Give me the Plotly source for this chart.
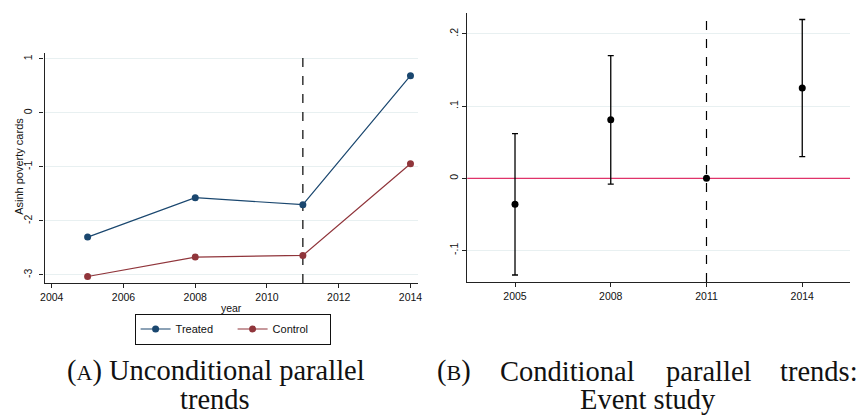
import plotly.graph_objects as go

W, H = 866, 416

# ---- Panel A data ----
years = [2005, 2008, 2011, 2014]
treated = [-2.30, -1.57, -1.70, 0.69]
control = [-3.03, -2.67, -2.64, -0.94]
a_yticks = [1, 0, -1, -2, -3]
a_yticktext = ["1", "0", "-1", "-2", "-3"]
a_xticks = [2004, 2006, 2008, 2010, 2012, 2014]
a_xrange = [2003.8, 2014.2]
a_yrange = [-3.15, 1.11]

# ---- Panel B data ----
es_years = [2005, 2008, 2011, 2014]
es_coef = [-0.036, 0.081, 0.0, 0.125]
es_upper = [0.062, 0.170, 0.0, 0.220]
es_lower = [-0.134, -0.008, 0.0, 0.030]
b_yticks = [0.2, 0.1, 0.0, -0.1]
b_yticktext = [".2", ".1", "0", "-.1"]
b_xticks = [2005, 2008, 2011, 2014]
b_xrange = [2003.5, 2015.5]
b_yrange = [-0.1437, 0.229]

treat_year = 2011

def px(x):
    return x / W

def py(y):
    return 1 - y / H

NAVY = "#1a476f"
MAROON = "#90353b"
GRID = "#e8f0f1"
AXF = dict(family="Liberation Sans, Arial, sans-serif", size=10.5, color="#111")

fig = go.Figure()

# reference lines (drawn first so markers sit on top)
fig.add_trace(go.Scatter(x=[treat_year, treat_year], y=a_yrange, mode="lines", showlegend=False,
                         hoverinfo="skip", line=dict(color="black", width=1.2, dash="dash"),
                         xaxis="x", yaxis="y"))
fig.add_trace(go.Scatter(x=b_xrange, y=[0, 0], mode="lines", showlegend=False,
                         hoverinfo="skip", line=dict(color="#e0336a", width=1.3),
                         xaxis="x2", yaxis="y2"))
fig.add_trace(go.Scatter(x=[treat_year, treat_year], y=b_yrange, mode="lines", showlegend=False,
                         hoverinfo="skip", line=dict(color="black", width=1.2, dash="dash"),
                         xaxis="x2", yaxis="y2"))

fig.add_trace(go.Scatter(x=years, y=treated, mode="lines+markers", name="Treated",
                         line=dict(color=NAVY, width=1.2), marker=dict(color=NAVY, size=7),
                         xaxis="x", yaxis="y"))
fig.add_trace(go.Scatter(x=years, y=control, mode="lines+markers", name="Control",
                         line=dict(color=MAROON, width=1.2), marker=dict(color=MAROON, size=7),
                         xaxis="x", yaxis="y"))

err_plus = [u - c for u, c in zip(es_upper, es_coef)]
err_minus = [c - l for c, l in zip(es_coef, es_lower)]
fig.add_trace(go.Scatter(x=es_years, y=es_coef, mode="markers", showlegend=False,
                         marker=dict(color="black", size=7),
                         error_y=dict(type="data", symmetric=False, array=err_plus,
                                      arrayminus=err_minus, color="black", thickness=1.3, width=3),
                         xaxis="x2", yaxis="y2"))

axis_common = dict(showline=True, linecolor="#222", linewidth=1.2, ticks="outside",
                   ticklen=4, tickcolor="#222", tickfont=AXF, zeroline=False)

fig.update_layout(
    width=W, height=H, margin=dict(l=0, r=0, t=0, b=0),
    paper_bgcolor="white", plot_bgcolor="white",
    xaxis=dict(domain=[px(41), px(418)], range=a_xrange, tickvals=a_xticks,
               showgrid=False, anchor="y",
               title=dict(text="year", font=AXF, standoff=2), **axis_common),
    yaxis=dict(domain=[py(283), py(53)], range=a_yrange, tickvals=a_yticks,
               ticktext=a_yticktext, tickangle=-90, showgrid=True, gridcolor=GRID, gridwidth=1,
               anchor="x", ticklabelstandoff=3, **axis_common),
    xaxis2=dict(domain=[px(468), px(855)], range=b_xrange, tickvals=b_xticks,
                showgrid=False, anchor="y2", **axis_common),
    yaxis2=dict(domain=[py(282), py(13)], range=b_yrange, tickvals=b_yticks,
                ticktext=b_yticktext, tickangle=-90, showgrid=True, gridcolor=GRID, gridwidth=1,
                anchor="x2", **axis_common),
    legend=dict(orientation="h", x=px(231), xanchor="center", y=py(329), yanchor="middle",
                bordercolor="#111", borderwidth=1, bgcolor="white",
                font=dict(family="Liberation Sans, Arial, sans-serif", size=11, color="#111"),
                itemwidth=30, entrywidth=52, tracegroupgap=0),
)

# y-axis title of panel A
fig.add_annotation(text="Asinh poverty cards", x=px(15), y=py(166), xref="paper", yref="paper",
                   textangle=-90, showarrow=False, xanchor="center", yanchor="middle",
                   font=dict(family="Liberation Sans, Arial, sans-serif", size=11, color="#111"))

CAP = dict(family="Liberation Serif, Times New Roman, serif", size=28.5, color="#111")
def cap(text, x, y, xanchor="center", yanchor="middle"):
    fig.add_annotation(text=text, x=px(x), y=py(y), xref="paper", yref="paper",
                       xanchor=xanchor, yanchor=yanchor, showarrow=False, font=CAP, borderpad=0)

SC = "<span style='font-size:22px'>{}</span>"
cap("(" + SC.format("A") + ") Unconditional parallel", 214, 371)
cap("trends", 213, 416, yanchor="bottom")
cap("(" + SC.format("B") + ")", 437, 371, "left")
cap("Conditional", 500, 371, "left")
cap("parallel", 668, 371, "left")
cap("trends:", 864, 371, "right")
cap("Event study", 651, 416, yanchor="bottom")

fig.write_html("out.html")
